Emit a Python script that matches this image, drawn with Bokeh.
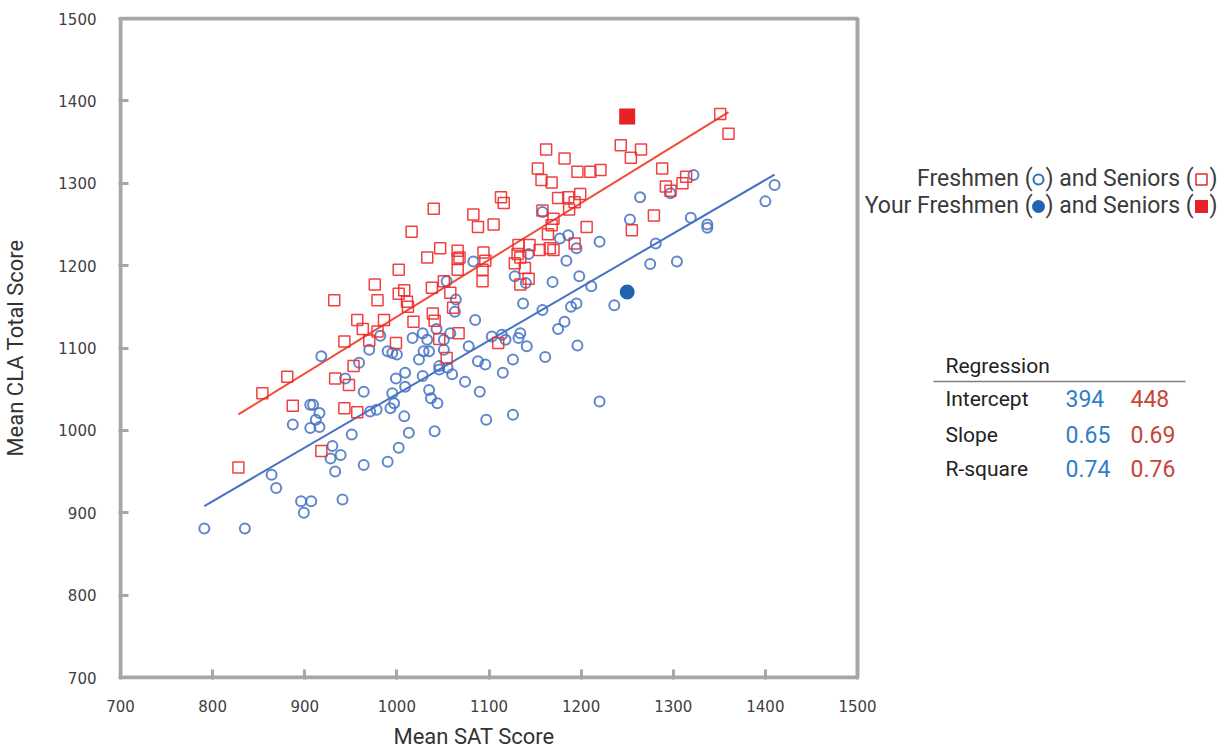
from bokeh.plotting import figure
from bokeh.models import Range1d, SingleIntervalTicker, FixedTicker, Title
from bokeh.core.properties import value
from bokeh.embed import file_html
from bokeh.resources import INLINE

# ---------------- data ----------------
fresh_sat = [791, 835, 864, 869, 896, 907, 899, 941, 887, 906, 909, 916, 912, 906, 916,
             930, 928, 939, 933, 964, 990, 951, 1002, 1013, 1041, 1008, 971, 978, 993, 997,
             995, 964, 1035, 1037, 1044, 1009, 999, 1009, 1028, 944, 918, 959, 970, 982, 990,
             995, 1000, 1017, 1028, 1033, 1029, 1035, 1024, 1046, 1046, 1055, 1060, 1051, 1078, 1074,
             1090, 1088, 1096, 1115, 1126, 1097, 1126, 1103, 1114, 1118, 1132, 1134, 1141, 1083, 1054,
             1064, 1063, 1085, 1128, 1140, 1137, 1043, 1051, 1058, 1158, 1143, 1177, 1186, 1195, 1184,
             1220, 1169, 1198, 1211, 1189, 1195, 1158, 1182, 1175, 1196, 1161, 1264, 1253, 1297, 1322,
             1319, 1281, 1275, 1304, 1337, 1337, 1236, 1410, 1400, 1220]
fresh_cla = [881, 881, 946, 930, 914, 914, 900, 916, 1007, 1031, 1031, 1021, 1013, 1003, 1004,
             981, 966, 970, 950, 958, 962, 995, 979, 997, 999, 1017, 1023, 1025, 1027, 1033,
             1045, 1047, 1049, 1039, 1033, 1053, 1063, 1070, 1066, 1063, 1090, 1082, 1098, 1115, 1096,
             1094, 1092, 1112, 1118, 1110, 1096, 1096, 1086, 1078, 1074, 1076, 1068, 1098, 1102, 1059,
             1047, 1084, 1080, 1070, 1086, 1013, 1019, 1114, 1116, 1110, 1112, 1118, 1102, 1205, 1181,
             1159, 1144, 1134, 1187, 1179, 1154, 1123, 1110, 1118, 1265, 1214, 1233, 1237, 1221, 1206,
             1229, 1180, 1187, 1175, 1150, 1154, 1146, 1132, 1123, 1103, 1089, 1283, 1256, 1288, 1310,
             1258, 1227, 1202, 1205, 1250, 1246, 1152, 1298, 1278, 1035]

senior_sat = [1351, 1360, 1162, 1182, 1153, 1196, 1210, 1221, 1243, 1254, 1265, 1288, 1157, 1168,
              1292, 1297, 1310, 1314, 1175, 1186, 1199, 1193, 1187, 1158, 1170, 1168, 1206, 1164,
              1279, 1255, 1193, 1132, 1144, 1155, 1166, 1170, 1131, 1134, 1128, 1139, 1143, 1134,
              1113, 1116, 1110, 1040, 1016, 1083, 1088, 1105, 1047, 1033, 1066, 1068, 1066, 1066,
              1094, 1096, 1093, 1093, 1002, 1038, 1051, 1008, 1002, 1058, 1011, 1012, 1061, 986,
              1039, 1041, 1018, 1067, 1046, 999, 1054, 976, 932, 979, 957, 963, 979, 943, 970,
              953, 881, 933, 948, 854, 887, 943, 957, 828, 918]
senior_cla = [1384, 1360, 1341, 1330, 1318, 1314, 1314, 1316, 1346, 1331, 1341, 1318, 1304, 1301,
              1296, 1291, 1300, 1308, 1282, 1283, 1287, 1277, 1268, 1267, 1257, 1249, 1247, 1238,
              1261, 1243, 1227, 1225, 1225, 1219, 1221, 1219, 1214, 1210, 1203, 1197, 1184, 1177,
              1283, 1276, 1106, 1269, 1241, 1262, 1247, 1250, 1221, 1210, 1218, 1210, 1208, 1195,
              1216, 1206, 1195, 1181, 1195, 1173, 1181, 1170, 1166, 1167, 1156, 1150, 1149, 1134,
              1142, 1133, 1132, 1118, 1111, 1106, 1088, 1177, 1158, 1158, 1134, 1123, 1120, 1108, 1109,
              1078, 1065, 1063, 1055, 1045, 1030, 1027, 1022, 955, 975]

your_fresh_sat = [1250]
your_fresh_cla = [1168]
your_senior_sat = [1250]
your_senior_cla = [1381]

x_ticks = [700, 800, 900, 1000, 1100, 1200, 1300, 1400, 1500]

reg_rows = ["Intercept", "Slope", "R-square"]
fresh_reg = [394, 0.65, 0.74]
senior_reg = [448, 0.69, 0.76]

# ---------------- layout constants (page pixels) ----------------
OX, OY = 8, 0
BOX_L, BOX_R, BOX_T, BOX_B = 120, 857, 18, 677   # chart box on the page
FR_L, FR_R, FR_T, FR_B = 118, 1218, 16, 679     # drawing frame on the page
XMIN, XMAX, YMIN, YMAX = 700, 1500, 700, 1500
KX = (XMAX - XMIN) / (BOX_R - BOX_L)
KY = (YMAX - YMIN) / (BOX_B - BOX_T)


def dx(px):
    return XMIN + (px - BOX_L) * KX


def dy(py):
    return YMAX - (py - BOX_T) * KY


FW = FR_R - FR_L
FH = FR_B - FR_T
p = figure(frame_width=FW, frame_height=FH,
           x_range=Range1d(dx(FR_L), dx(FR_R)), y_range=Range1d(dy(FR_B), dy(FR_T)),
           output_backend="svg", toolbar_location=None,
           min_border_left=FR_L - OX, min_border_top=FR_T - OY,
           min_border_right=0, min_border_bottom=76)

p.xgrid.grid_line_color = None
p.ygrid.grid_line_color = None
p.outline_line_color = None
p.background_fill_color = "white"
p.border_fill_color = "white"

p.xaxis.ticker = FixedTicker(ticks=x_ticks)
p.yaxis.ticker = SingleIntervalTicker(interval=100)
for ax in (p.xaxis[0], p.yaxis[0]):
    ax.axis_line_color = None
    ax.major_tick_in = 10
    ax.major_tick_out = 0
    ax.major_tick_line_color = "#A6A6A6"
    ax.major_tick_line_width = 3
    ax.minor_tick_line_color = None
    ax.major_label_text_font = "DejaVu Sans"
    ax.major_label_text_font_size = "15px"
    ax.major_label_text_color = "#404040"
p.xaxis.major_label_standoff = 20
p.yaxis.major_label_standoff = 18

p.yaxis.axis_label = "Mean CLA Total Score"
p.yaxis.axis_label_text_font = "Roboto"
p.yaxis.axis_label_text_font_size = "22px"
p.yaxis.axis_label_text_font_style = "normal"
p.yaxis.axis_label_text_color = "#333333"
p.yaxis.axis_label_standoff = 27

p.add_layout(Title(text="Mean SAT Score", align="left", offset=393 - FR_L,
                   text_font="Roboto", text_font_size="22px", text_font_style="normal",
                   text_color="#333333", standoff=15), "below")

# chart box
p.quad(left=[XMIN], right=[XMAX], bottom=[YMIN], top=[YMAX], fill_color=None,
       line_color="#A6A6A6", line_width=4)

# regression lines from table values
fx = [min(fresh_sat), max(fresh_sat)]
sx = [min(senior_sat), max(senior_sat)]
p.line(fx, [fresh_reg[0] + fresh_reg[1] * v for v in fx], line_color="#4472C4", line_width=2)
p.line(sx, [senior_reg[0] + senior_reg[1] * v for v in sx], line_color="#F24A35", line_width=2)

p.scatter(fresh_sat, fresh_cla, marker="circle", size=10, fill_color=None,
          line_color="#4472C4", line_width=2, line_alpha=0.85)
p.scatter(senior_sat, senior_cla, marker="square", size=11, fill_color=None,
          line_color="#EE2B2B", line_width=1.5, line_alpha=0.9)
p.scatter(your_fresh_sat, your_fresh_cla, marker="circle", size=15,
          fill_color="#1F64B0", line_color=None)
p.scatter(your_senior_sat, your_senior_cla, marker="square", size=16,
          fill_color="#E82128", line_color=None)


def txt(text, px, py, size, color, align="left", font="Roboto"):
    p.text(x=[dx(px)], y=[dy(py)], text=[text], text_font=value(font),
           text_font_size=value(f"{size}px"), text_color=color,
           text_align=align, text_baseline="middle")


# legend
LEG = "#3B3B3B"
L1, L2 = 178, 205
txt("Freshmen (", 1032, L1, 23, LEG, "right")
txt(") and Seniors (", 1045, L1, 23, LEG, "left")
txt(")", 1209, L1, 23, LEG, "left")
txt("Your Freshmen (", 1032, L2, 23, LEG, "right")
txt(") and Seniors (", 1045, L2, 23, LEG, "left")
txt(")", 1209, L2, 23, LEG, "left")
p.scatter([dx(1038)], [dy(L1 + 1)], marker="circle", size=10, fill_color=None,
          line_color="#2E6DC0", line_width=2)
p.scatter([dx(1201)], [dy(L1 + 1)], marker="square", size=11, fill_color=None,
          line_color="#E8262B", line_width=1.5)
p.scatter([dx(1038)], [dy(L2 + 1)], marker="circle", size=13, fill_color="#1F64B0",
          line_color=None)
p.scatter([dx(1201)], [dy(L2 + 1)], marker="square", size=13, fill_color="#E82128",
          line_color=None)

# regression table
txt("Regression", 945, 365, 21, "#222222")
p.line([dx(933), dx(1185)], [dy(381), dy(381)], line_color="#7F7F7F", line_width=1.5)
row_y = [398, 434, 468]
for name, fv, sv, yy in zip(reg_rows, fresh_reg, senior_reg, row_y):
    txt(name, 945, yy, 21, "#222222")
    txt(f"{fv:g}", 1065, yy, 23, "#2F7EC7")
    txt(f"{sv:g}", 1130, yy, 23, "#C8453A")

open("out.html", "w").write(file_html(p, INLINE))
